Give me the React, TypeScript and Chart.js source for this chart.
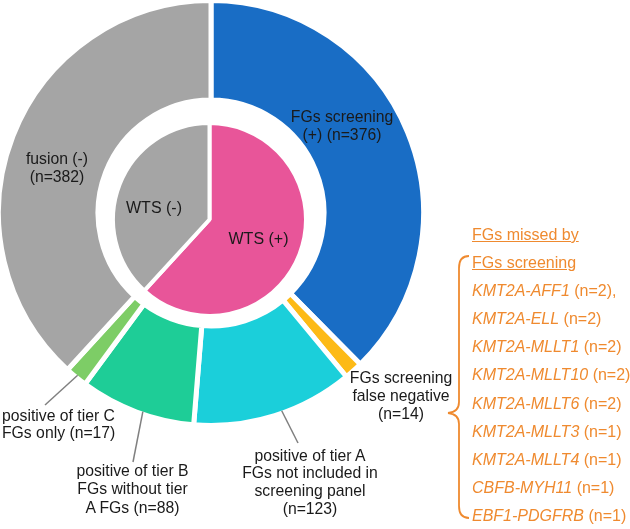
import React, { useEffect, useRef } from "react";
import { Chart, registerables } from "chart.js";
Chart.register(...registerables);

// ---------- data ----------
const outerCategories = [
  "FGs screening (+)",
  "FGs screening false negative",
  "positive of tier A FGs not included in screening panel",
  "positive of tier B FGs without tier A FGs",
  "positive of tier C FGs only",
  "fusion (-)",
];
const outerValues = [376, 14, 123, 88, 17, 382];
const outerColors = ["#196DC5", "#FDBA16", "#1BCFDA", "#1ECD97", "#7DCD66", "#A5A5A5"];

const innerCategories = ["WTS (+)", "WTS (-)"];
const innerValues = [618, 382];
const innerColors = ["#E85599", "#A5A5A5"];

const labelFGsPos = ["FGs screening", "(+) (n=376)"];
const labelFusionNeg = ["fusion (-)", "(n=382)"];
const labelFalseNeg = ["FGs screening", "false negative", "(n=14)"];
const labelTierA = ["positive of tier A", "FGs not included in", "screening panel", "(n=123)"];
const labelTierB = ["positive of tier B", "FGs without tier", "A FGs (n=88)"];
const labelTierC = ["positive of tier C", "FGs only (n=17)"];

const missedTitle = ["FGs missed by", "FGs screening"];
const missedGenes = [
  "KMT2A-AFF1",
  "KMT2A-ELL",
  "KMT2A-MLLT1",
  "KMT2A-MLLT10",
  "KMT2A-MLLT6",
  "KMT2A-MLLT3",
  "KMT2A-MLLT4",
  "CBFB-MYH11",
  "EBF1-PDGFRB",
];
const missedCounts = ["(n=2),", "(n=2)", "(n=2)", "(n=2)", "(n=2)", "(n=1)", "(n=1)", "(n=1)", "(n=1)"];

const ORANGE = "#EF8A2F";
const FONT = '"Liberation Sans", Arial, Helvetica, sans-serif';

// leader lines: [arc index, fraction along arc, end x, end y]
const leaders: [number, number, number, number][] = [
  [4, 0.5, 45, 405],
  [3, 0.45, 133, 462],
  [2, 0.45, 298, 443],
];

const OUTER_BW = 5;

const annotPlugin = {
  id: "annot",
  afterDraw(chart: any) {
    const ctx = chart.ctx;
    const meta = chart.getDatasetMeta(0);
    ctx.save();
    ctx.strokeStyle = "#808080";
    ctx.lineWidth = 1.5;
    for (const [idx, frac, ex, ey] of leaders) {
      const arc = meta.data[idx];
      const p = arc.getProps(["x", "y", "startAngle", "endAngle", "outerRadius"], true);
      const a = p.startAngle + (p.endAngle - p.startAngle) * frac;
      const r = p.outerRadius - OUTER_BW / 2;
      ctx.beginPath();
      ctx.moveTo(p.x + Math.cos(a) * r, p.y + Math.sin(a) * r);
      ctx.lineTo(ex, ey);
      ctx.stroke();
    }
    // curly bracket
    ctx.strokeStyle = ORANGE;
    ctx.lineWidth = 1.8;
    ctx.beginPath();
    ctx.moveTo(469, 256);
    ctx.quadraticCurveTo(459, 256, 459, 268);
    ctx.lineTo(459, 402);
    ctx.quadraticCurveTo(459, 412, 448, 413);
    ctx.quadraticCurveTo(459, 414, 459, 424);
    ctx.lineTo(459, 506);
    ctx.quadraticCurveTo(459, 518, 469, 518);
    ctx.stroke();
    ctx.restore();
  },
};

function Label({ x, y, lines, lh, align = "center", size = 15.75 }: any) {
  return (
    <div
      style={{
        position: "absolute",
        left: x,
        top: y,
        transform: align === "center" ? "translate(-50%,-50%)" : "translate(0,-50%)",
        textAlign: align,
        whiteSpace: "nowrap",
        fontSize: size,
        lineHeight: lh + "px",
        color: "#1a1a1a",
      }}
    >
      {lines.map((l: string, i: number) => (
        <div key={i}>{l}</div>
      ))}
    </div>
  );
}

export default function App() {
  const outerRef = useRef<HTMLCanvasElement>(null);
  const innerRef = useRef<HTMLCanvasElement>(null);

  useEffect(() => {
    const R = 212.5;
    const cut = 113;
    const outer = new Chart(outerRef.current!, {
      type: "doughnut",
      data: {
        labels: outerCategories,
        datasets: [
          {
            data: outerValues,
            backgroundColor: outerColors,
            borderColor: "#ffffff",
            borderWidth: OUTER_BW,
            clip: false as any,
          },
        ],
      },
      options: {
        responsive: false,
        animation: false,
        events: [],
        radius: R,
        cutout: (cut / R) * 100 + "%",
        layout: { padding: { left: 0, top: 0, right: 630 - 422, bottom: 529 - 426 } },
        plugins: { legend: { display: false }, tooltip: { enabled: false } },
      } as any,
      plugins: [annotPlugin],
    });
    const inner = new Chart(innerRef.current!, {
      type: "pie",
      data: {
        labels: innerCategories,
        datasets: [
          {
            data: innerValues,
            backgroundColor: innerColors,
            borderColor: "#ffffff",
            borderWidth: 4,
            clip: false as any,
          },
        ],
      },
      options: {
        responsive: false,
        animation: false,
        events: [],
        radius: 96.5,
        layout: { padding: { left: 0, top: 0, right: 630 - 419, bottom: 529 - 439 } },
        plugins: { legend: { display: false }, tooltip: { enabled: false } },
      } as any,
    });
    return () => {
      outer.destroy();
      inner.destroy();
    };
  }, []);

  return (
    <div
      style={{
        position: "absolute",
        left: 0,
        top: 0,
        width: 630,
        height: 529,
        overflow: "hidden",
        background: "#fff",
        fontFamily: FONT,
      }}
    >
      <canvas ref={outerRef} width={630} height={529} style={{ position: "absolute", left: 0, top: 0 }} />
      <canvas ref={innerRef} width={630} height={529} style={{ position: "absolute", left: 0, top: 0 }} />

      <Label x={342} y={126} lines={labelFGsPos} lh={18} />
      <Label x={57} y={168} lines={labelFusionNeg} lh={18} />
      <Label x={154} y={208} lines={[innerCategories[1]]} lh={18} size={16} />
      <Label x={258.5} y={239} lines={[innerCategories[0]]} lh={18} size={16} />
      <Label x={401} y={396.5} lines={labelFalseNeg} lh={18.4} />
      <Label x={310} y={481.5} lines={labelTierA} lh={17.7} />
      <Label x={132.5} y={489} lines={labelTierB} lh={18.3} />
      <Label x={2} y={424.5} lines={labelTierC} lh={17.7} align="left" />

      <div
        style={{
          position: "absolute",
          left: 472,
          top: 235 - 14.05,
          fontSize: 16,
          lineHeight: "28.1px",
          color: ORANGE,
          whiteSpace: "nowrap",
        }}
      >
        {missedTitle.map((t, i) => (
          <div key={"t" + i} style={{ textDecoration: "underline" }}>
            {t}
          </div>
        ))}
        {missedGenes.map((g, i) => (
          <div key={g}>
            <span style={{ fontStyle: "italic" }}>{g}</span> {missedCounts[i]}
          </div>
        ))}
      </div>
    </div>
  );
}
